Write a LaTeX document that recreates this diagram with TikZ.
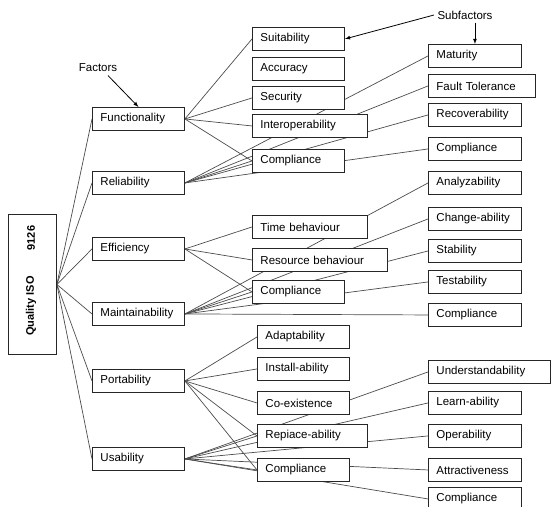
\documentclass[tikz,border=0pt]{standalone}
\usepackage{fontspec}
\setmainfont{Liberation Sans}
\usetikzlibrary{backgrounds}

\begin{document}
\begin{tikzpicture}[x=1pt, y=-1pt,
    box/.style={draw=black!85, line width=0.9pt, fill=white, anchor=north west,
      minimum height=23pt, inner xsep=8pt, inner ysep=2pt, text width=#1, align=left,
      font=\fontsize{11.5}{13}\selectfont},
    box/.default=76pt,
    link/.style={draw=black!70, line width=0.7pt},
    tag/.style={font=\fontsize{11.5}{13}\selectfont}]
  \useasboundingbox (0,0) rectangle (551,506);

  % Quality ISO 9126
  \node[draw=black!85, line width=0.9pt, minimum width=48pt, minimum height=140pt,
    inner sep=0pt, anchor=north west] (q) at (8,214) {};
  \node[rotate=90, font=\bfseries\fontsize{11}{13}\selectfont] (qtxt) at (31,306) {Quality ISO};
  \node[rotate=90, font=\bfseries\fontsize{11}{13}\selectfont] (qnum) at (31,238) {9126};

  % Factors
  \node[box] (fun) at (92,107) {Functionality};
  \node[box] (rel) at (92,171) {Reliability};
  \node[box] (eff) at (92,237) {Efficiency};
  \node[box] (mai) at (92,302) {Maintainability};
  \node[box] (por) at (92,369) {Portability};
  \node[box] (usa) at (92,447) {Usability};

  % Subfactors, middle column
  \node[box] (suit) at (252,27) {Suitability};
  \node[box] (acc) at (252,57) {Accuracy};
  \node[box] (sec) at (252,86) {Security};
  \node[box=99pt] (intop) at (252,114) {Interoperability};
  \node[box] (comf) at (252,149) {Compliance};
  \node[box=99pt] (time) at (252,215) {Time behaviour};
  \node[box=119pt] (res) at (252,248) {Resource behaviour};
  \node[box] (come) at (252,280) {Compliance};
  \node[box] (adap) at (257,325) {Adaptability};
  \node[box] (inst) at (257,357) {Install-ability};
  \node[box] (coex) at (257,391) {Co-existence};
  \node[box=94pt] (repl) at (257,424) {Repiace-ability};
  \node[box] (comp) at (257,458) {Compliance};

  % Subfactors, right column
  \node[box=77pt] (mat) at (428,44) {Maturity};
  \node[box=91pt] (fault) at (428,74) {Fault Tolerance};
  \node[box=77pt] (rec) at (428,103) {Recoverability};
  \node[box=77pt] (comr) at (428,137) {Compliance};
  \node[box=77pt] (ana) at (428,171) {Analyzability};
  \node[box=77pt] (chg) at (428,207) {Change-ability};
  \node[box=77pt] (stab) at (428,239) {Stability};
  \node[box=77pt] (test) at (428,270) {Testability};
  \node[box=77pt] (comm) at (428,303) {Compliance};
  \node[box=106pt] (und) at (428,360) {Understandability};
  \node[box=77pt] (learn) at (428,391) {Learn-ability};
  \node[box=77pt] (oper) at (428,424) {Operability};
  \node[box=77pt] (attr) at (428,458) {Attractiveness};
  \node[box=77pt] (comu) at (428,487) {Compliance};

  % Labels
  \node[tag] (fact) at (98,68) {Factors};
  \node[tag] (subf) at (465,15) {Subfactors};
  \draw[-latex, line width=0.8pt] ([xshift=10pt]fact.south) -- (fun.north);
  \draw[-latex, line width=0.8pt] (subf.west) -- (suit.east);
  \draw[-latex, line width=0.8pt] (subf.south -| mat.north) -- (mat.north);

  % links behind the boxes
  \begin{scope}[on background layer]
    \foreach \f in {fun,rel,eff,mai,por,usa}
      \draw[link] (q.east) -- (\f.west);
    \foreach \s in {suit,sec,intop,comf}
      \draw[link] (fun.east) -- (\s.west);
    \foreach \s in {comf,mat,fault,rec,comr}
      \draw[link] (rel.east) -- (\s.west);
    \foreach \s in {time,res,come}
      \draw[link] (eff.east) -- (\s.west);
    \foreach \s in {come,ana,chg,stab,test,comm}
      \draw[link] (mai.east) -- (\s.west);
    \foreach \s in {adap,inst,coex,repl,comp}
      \draw[link] (por.east) -- (\s.west);
    \foreach \s in {repl,comp,und,learn,oper,attr,comu}
      \draw[link] (usa.east) -- (\s.west);
  \end{scope}
\end{tikzpicture}
\end{document}
